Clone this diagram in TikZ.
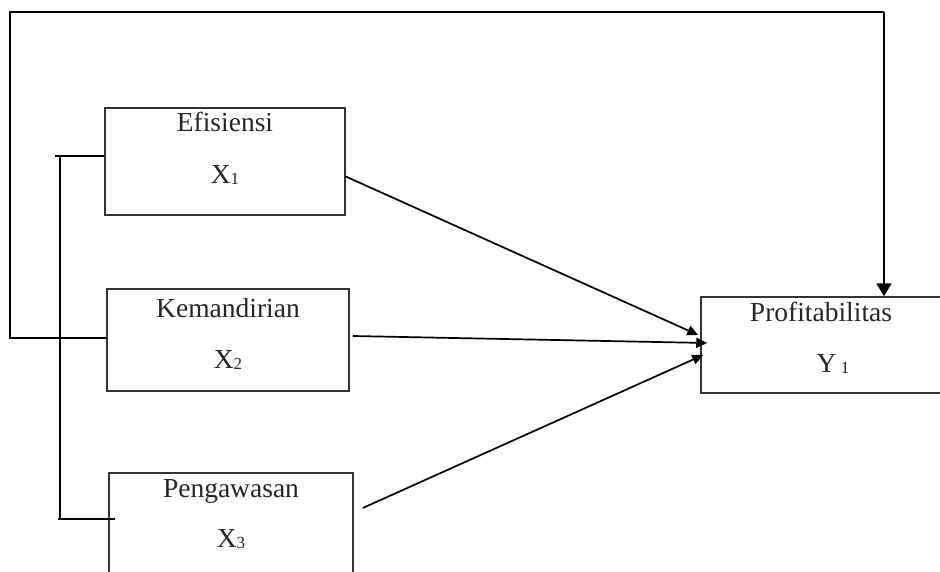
\documentclass[tikz,border=0pt]{standalone}
\usepackage{fontspec}
\setmainfont{Liberation Serif}
\usetikzlibrary{arrows.meta}
\newcommand\subidx[1]{\raisebox{-1.5pt}{\fontsize{17}{17}\selectfont #1}}
\tikzstyle{box}=[draw=black!80,line width=1.5pt,rectangle,inner sep=0pt]
\tikzstyle{lbl}=[anchor=base,inner sep=0pt,text=black!85,font=\fontsize{27.5}{32}\selectfont]
\tikzstyle{edge} = [draw,line width=1.7pt,-{Triangle[length=11pt,width=10pt]}]
\tikzstyle{link} = [draw,line width=2pt,-]

\begin{document}
\begin{tikzpicture}[x=1pt,y=-1pt]
	\clip (0,0) rectangle (940,572);
	\useasboundingbox (0,0) rectangle (940,572);
	\foreach \pos/\name/\w/\h in {{(225,161.5)/x1/240/107}, {(228,340)/x2/242/102},
                            {(231,524)/x3/244/102}, {(821,345)/y/240/96}}
        \node[box,minimum width=\w pt,minimum height=\h pt] (\name) at \pos {};
    \foreach \name/\top/\bottom/\dt/\db in {x1/Efisiensi/X\subidx{1}/24/76,
                            x2/Kemandirian/X\subidx{2}/29/80,
                            x3/Pengawasan/X\subidx{3}/25/75}
    {
        \node[lbl] at ([yshift=-\dt pt]\name.north) {\top};
        \node[lbl] at ([yshift=-\db pt]\name.north) {\bottom};
    }
    \node[lbl] at ([yshift=-25pt]y.north) {Profitabilitas};
    \node[lbl] at ([xshift=12pt,yshift=-76pt]y.north) {Y\,\subidx{1}};

    % arrows into the dependent variable
    \path[edge] ([yshift=-15pt]x1.east) -- ([xshift=-2pt,yshift=10pt]y.west);
    \path[edge] ([xshift=3pt,yshift=4pt]x2.east) -- ([xshift=7pt,yshift=2pt]y.west);
    \path[edge] ([xshift=9pt,yshift=16pt]x3.east) -- ([xshift=3pt,yshift=-10pt]y.west);

    % bracket joining the three variables
    \coordinate (bt) at (60,156);
    \coordinate (bb) at (60,519);
    \path[link] (55,156) -- (bt) -- (bb);
    \path[link] (bt) -- (bt -| x1.west);
    \path[link] (58,519) -- (115,519);

    % loop over the top
    \coordinate (tl) at (10,12);
    \coordinate (tr) at (884,12);
    \path[link] ([yshift=2pt]x2.west) -| (tl) -- (tr);
    \path[draw,line width=2.2pt,-{Triangle[length=13pt,width=15pt]}] (tr) -- (tr |- y.north);
\end{tikzpicture}
\end{document}
